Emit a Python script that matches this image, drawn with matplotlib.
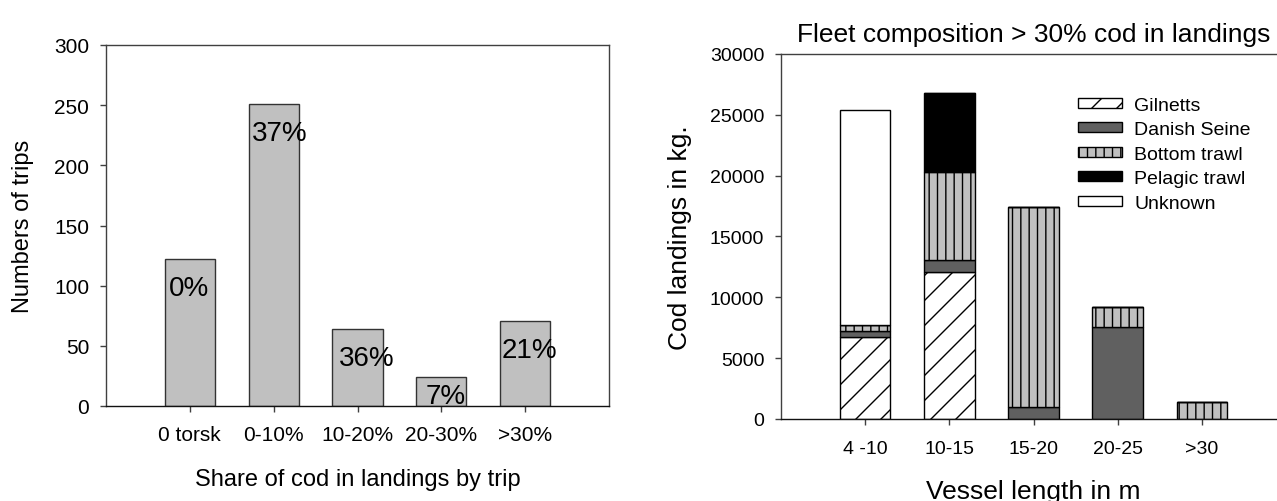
import matplotlib
matplotlib.use("Agg")
import matplotlib.pyplot as plt
import matplotlib.path as mpath
import numpy as np

plt.rcParams['font.family'] = ['Liberation Sans', 'DejaVu Sans']
plt.rcParams['hatch.linewidth'] = 1.0

# slightly coarser hatch density than matplotlib's default, to match the reference
_orig_hatch = mpath.Path.hatch
def _hatch(hatchpattern, density=6):
    return _orig_hatch(hatchpattern, 4.5)
mpath.Path.hatch = staticmethod(_hatch)

# ---- Left chart data ----
share_cats = ["0 torsk", "0-10%", "10-20%", "20-30%", ">30%"]
trips = [122, 251, 64, 24, 71]
pct_labels = ["0%", "37%", "36%", "7%", "21%"]

# ---- Right chart data ----
length_cats = ["4 -10", "10-15", "15-20", "20-25", ">30"]
gilnetts = [6700, 12100, 0, 0, 0]
danish_seine = [500, 1000, 1000, 7600, 0]
bottom_trawl = [500, 7200, 16400, 1600, 1400]
pelagic_trawl = [0, 6500, 0, 0, 0]
unknown = [17700, 0, 0, 0, 0]

W, H = 1277, 502
fig = plt.figure(figsize=(W / 100, H / 100), dpi=100)

spine_col = '#404040'

# ---------------- Left axes ----------------
axL = fig.add_axes([106 / W, 1 - 407 / H, 503 / W, 361 / H])
xL = np.arange(len(share_cats))
axL.bar(xL, trips, width=0.6, color='#c0c0c0', edgecolor='#333333', linewidth=1.0)
axL.set_xlim(-1, 5)
axL.set_ylim(0, 300)
axL.set_yticks(np.arange(0, 301, 50))
axL.set_xticks(xL)
axL.set_xticklabels(share_cats)
axL.tick_params(axis='both', direction='out', length=4, width=1, color=spine_col,
                labelsize=15, pad=8)
axL.tick_params(axis='x', pad=9.5)
for s in axL.spines.values():
    s.set_color(spine_col)
    s.set_linewidth(1.0)
axL.spines['bottom'].set_color('#111111')

label_dx = [-1, 6, 9, 4, 4]
for i, (v, lab) in enumerate(zip(trips, pct_labels)):
    y = max(v - 22, 11)
    axL.annotate(lab, (xL[i], y), xytext=(label_dx[i] * 0.72, -2), textcoords='offset points',
                 ha='center', va='center', fontsize=20)

axL.set_xlabel("Share of cod in landings by trip", fontsize=17)
axL.set_ylabel("Numbers of trips", fontsize=17)
axL.xaxis.set_label_coords(0.5, -0.172)
axL.yaxis.set_label_coords(-0.143, 0.5)

# ---------------- Right axes ----------------
axR = fig.add_axes([781 / W, 1 - 420 / H, 505 / W, 365 / H])
xR = np.arange(len(length_cats))
series = [
    ("Gilnetts", gilnetts, dict(color='white', hatch='//')),
    ("Danish Seine", danish_seine, dict(color='#606060')),
    ("Bottom trawl", bottom_trawl, dict(color='#c0c0c0', hatch='|||')),
    ("Pelagic trawl", pelagic_trawl, dict(color='black')),
    ("Unknown", unknown, dict(color='white')),
]
bottom = np.zeros(len(length_cats))
for name, vals, st in series:
    vals = np.array(vals, dtype=float)
    axR.bar(xR, vals, width=0.6, bottom=bottom, edgecolor='black', linewidth=1.0,
            label=name, **st)
    bottom += vals

axR.set_xlim(-1, 5)
axR.set_ylim(0, 30000)
axR.set_yticks(np.arange(0, 30001, 5000))
axR.set_xticks(xR)
axR.set_xticklabels(length_cats)
axR.tick_params(axis='both', direction='out', length=4, width=1, color=spine_col,
                labelsize=14, pad=8)
axR.tick_params(axis='x', pad=11)
for s in axR.spines.values():
    s.set_color(spine_col)
    s.set_linewidth(1.0)
axR.spines['bottom'].set_color('#111111')

axR.set_title("Fleet composition > 30% cod in landings", fontsize=19, pad=9)
axR.set_xlabel("Vessel length in m", fontsize=19)
axR.set_ylabel("Cod landings in kg.", fontsize=19)
axR.xaxis.set_label_coords(0.5, -0.165)
axR.yaxis.set_label_coords(-0.176, 0.5)

leg = axR.legend(loc='upper left', bbox_to_anchor=(1078 / W, 1 - 98 / H),
                 bbox_transform=fig.transFigure, frameon=False, fontsize=14,
                 handlelength=2.27, handleheight=0.42, handletextpad=0.62,
                 labelspacing=0.38, borderpad=0, borderaxespad=0)

fig.savefig("out.png", dpi=100)
